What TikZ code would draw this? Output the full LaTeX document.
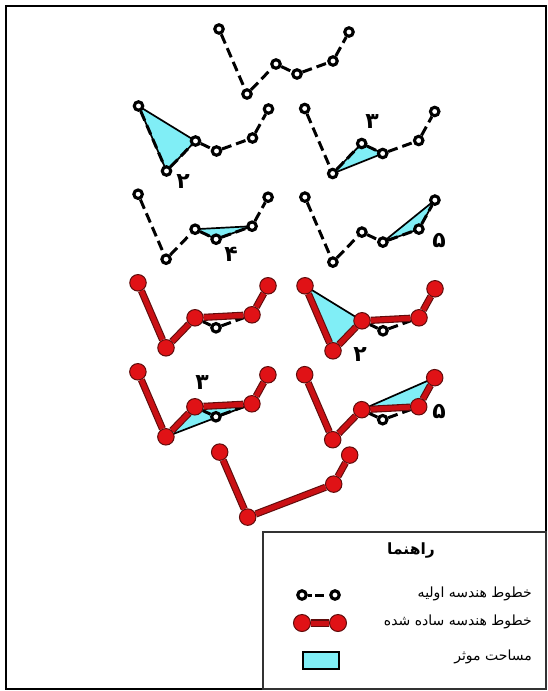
\documentclass[tikz,border=0pt]{standalone}
\usepackage{fontspec}
\newfontfamily\fa[Script=Arabic]{DejaVu Sans}
\TeXXeTstate=1
\definecolor{vwcyan}{RGB}{128,238,246}
\definecolor{vwred}{RGB}{224,18,22}
\definecolor{vwdark}{RGB}{95,12,12}
\tikzset{
 orig/.style={circle, draw=black, fill=white, line width=3.1pt, inner sep=0pt, minimum size=8.5pt},
 redpt/.style={circle, draw=vwdark, fill=vwred, line width=1pt, inner sep=0pt, minimum size=16.5pt},
 dashline/.style={draw=black, line width=3pt, dash pattern=on 10pt off 5pt},
 redline/.style={draw=vwdark, line width=1.1pt, double=vwred!90!black, double distance=5pt},
 area/.style={fill=vwcyan, draw=black, line width=1.7pt, line join=round},
 num/.style={font=\fa\bfseries\fontsize{22}{22}\selectfont, inner sep=0pt},
 legtext/.style={font=\fa\fontsize{14}{14}\selectfont, inner sep=0pt, anchor=east},
}
\newcommand\vwpts[3]{\begin{scope}[shift={(#2,#3)}]
 \coordinate (A#1) at (219,29); \coordinate (B#1) at (247,94);
 \coordinate (C#1) at (276,64); \coordinate (D#1) at (297,74);
 \coordinate (E#1) at (333,61); \coordinate (F#1) at (349,32);
\end{scope}}
\newcommand\origline[1]{%
 \foreach \p in {A,B,C,D,E,F} {\node[orig] (n\p#1) at (\p#1) {};}
 \draw[dashline] (nA#1) -- (nB#1) -- (nC#1) -- (nD#1) -- (nE#1) -- (nF#1);
}
\newcommand\redline[1]{%
 \node[orig] (nD#1) at (D#1) {};
 \foreach \p in {A,B,C,E,F} {\node[redpt] (n\p#1) at (\p#1) {};}
 \draw[dashline] (nC#1) -- (nD#1) -- (nE#1);
 \draw[redline] (nA#1) -- (nB#1) -- (nC#1) -- (nE#1) -- (nF#1);
}
\begin{document}
\begin{tikzpicture}[x=1pt,y=-1pt]
\useasboundingbox (0,0) rectangle (548,691);
\draw[line width=2pt] (6,6) rectangle (546,689);
% copies
\vwpts{0}{0}{0}
\vwpts{1}{-80.5}{77}
\vwpts{2}{85.7}{79.5}
\vwpts{3}{-80.9}{165.2}
\vwpts{4}{85.9}{168.1}
\vwpts{5}{-81}{253.8}
\vwpts{6}{86}{256.8}
\vwpts{7}{-81.1}{342.8}
\vwpts{8}{85.7}{345.7}
\vwpts{9}{0.7}{423.1}
% areas
\filldraw[area] (A1) -- (B1) -- (C1) -- cycle;
\filldraw[area] (B2) -- (C2) -- (D2) -- cycle;
\filldraw[area] (C3) -- (D3) -- (E3) -- cycle;
\filldraw[area] (D4) -- (E4) -- (F4) -- cycle;
\filldraw[area] (A6) -- (B6) -- (C6) -- cycle;
\filldraw[area] (B7) -- (C7) -- (E7) -- cycle;
\filldraw[area] (C8) -- (E8) -- (F8) -- cycle;
% original lines
\origline{0}
\origline{1}
\origline{2}
\origline{3}
\origline{4}
% simplified lines
\redline{5}
\redline{6}
\redline{7}
\redline{8}
\foreach \p in {A,B,E,F} {\node[redpt] (n\p9) at (\p9) {};}
\draw[redline] (nA9) -- (nB9) -- (nE9) -- (nF9);
% labels
\node[num] (l1) at (183,182) {\beginR ۲\endR};
\node[num] (l2) at (372,122) {\beginR ۳\endR};
\node[num] (l3) at (231,254) {\beginR ۴\endR};
\node[num] (l4) at (439,241) {\beginR ۵\endR};
\node[num] (l6) at (360,355) {\beginR ۲\endR};
\node[num] (l7) at (202,383) {\beginR ۳\endR};
\node[num] (l8) at (439,412) {\beginR ۵\endR};
% legend
\draw[line width=1.2pt, draw=black!80] (263,532) rectangle (546,689);
\node[font=\fa\bfseries\fontsize{15.5}{15.5}\selectfont, inner sep=0pt] (title) at (411,550) {\beginR راهنما\endR};
\node[orig] (k1a) at (302,595) {};
\node[orig] (k1b) at (335,595) {};
\draw[draw=black, line width=3pt, dash pattern=on 4pt off 3.5pt on 9pt off 20pt] (k1a) -- (k1b);
\node[legtext] (t1) at (532,594) {\beginR خطوط هندسه اولیه\endR};
\node[redpt, minimum size=17pt] (k2a) at (302,623) {};
\node[redpt, minimum size=17pt] (k2b) at (338,623) {};
\draw[redline] (k2a) -- (k2b);
\node[legtext] (t2) at (532,622) {\beginR خطوط هندسه ساده شده\endR};
\node[draw=black, line width=2.4pt, fill=vwcyan, minimum width=36pt, minimum height=17pt, inner sep=0pt] (k3) at (321,660.5) {};
\node[legtext] (t3) at (532,657) {\beginR مساحت موثر\endR};
\end{tikzpicture}
\end{document}
